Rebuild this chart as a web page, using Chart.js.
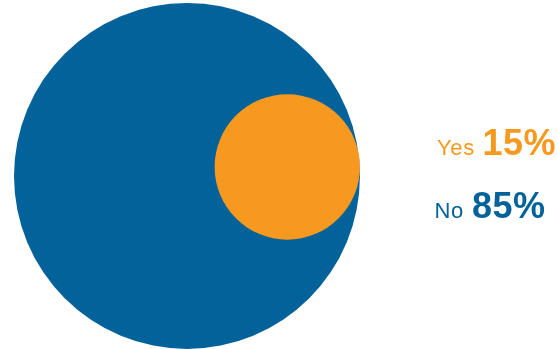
<!DOCTYPE html>
<html>
<head>
<meta charset="utf-8">
<script src="https://cdn.jsdelivr.net/npm/chart.js@4/dist/chart.umd.min.js"></script>
<style>
  html, body { margin: 0; padding: 0; background: #ffffff; }
  #wrap { position: relative; width: 558px; height: 349px; }
  #c { position: absolute; left: 0; top: 0; }
  .t { position: absolute; white-space: nowrap; font-family: "Liberation Sans", Arial, sans-serif; }
  .name { font-size: 22px; line-height: 22px; font-weight: normal; letter-spacing: 0.7px; }
  .val { font-size: 36px; line-height: 36px; font-weight: bold; letter-spacing: 0.5px; }
</style>
</head>
<body>
<div id="wrap">
  <canvas id="c" width="558" height="349"></canvas>
  <span class="t name" id="n0" style="left:437px; top:137px;"></span>
  <span class="t val"  id="v0" style="left:482.5px; top:125px;"></span>
  <span class="t name" id="n1" style="left:434.5px; top:199.5px;"></span>
  <span class="t val"  id="v1" style="left:472px; top:187.5px;"></span>
</div>
<script>
// ---- data ----
const categories = ["Yes", "No"];
const values = [15, 85];           // percent
const colors = ["#f7991e", "#036299"];

// ---- geometry derived from the values (areas proportional to value) ----
const vmax = Math.max(...values);
const rel = values.map(v => Math.sqrt(v / vmax));   // radius relative to the largest circle
// largest circle centred at origin; smaller circle tangent to it on the inside (right side)
const positions = values.map((v, i) => {
  if (v === vmax) return { x: 0, y: 0 };
  return { x: 1 - rel[i], y: 0.052 };
});

const X_MIN = -1.081, X_MAX = 2.145, Y_MIN = -1.0, Y_MAX = 1.017;

const datasets = categories.map((cat, i) => ({
  label: cat,
  data: [{ x: positions[i].x, y: positions[i].y }],
  backgroundColor: colors[i],
  hoverBackgroundColor: colors[i],
  borderWidth: 0,
  hoverBorderWidth: 0,
  hoverRadius: 0,
  clip: false,
  radius: (ctx) => {
    const xs = ctx.chart.scales.x;
    let unit = xs ? (xs.getPixelForValue(1) - xs.getPixelForValue(0)) : NaN;
    if (!isFinite(unit) || unit <= 0) unit = ctx.chart.width / (X_MAX - X_MIN);
    return unit * rel[i];
  }
}));

new Chart(document.getElementById('c'), {
  type: 'bubble',
  data: { datasets },
  options: {
    responsive: false,
    animation: false,
    events: [],
    layout: { padding: 0, autoPadding: false },
    plugins: { legend: { display: false }, tooltip: { enabled: false } },
    scales: {
      x: { type: 'linear', display: false, min: X_MIN, max: X_MAX },
      y: { type: 'linear', display: false, min: Y_MIN, max: Y_MAX }
    }
  }
});

// ---- labels (real text) ----
categories.forEach((cat, i) => {
  const n = document.getElementById('n' + i);
  const v = document.getElementById('v' + i);
  n.style.color = colors[i];
  v.style.color = colors[i];
  n.textContent = cat;
  v.textContent = values[i] + '%';
});
</script>
</body>
</html>
